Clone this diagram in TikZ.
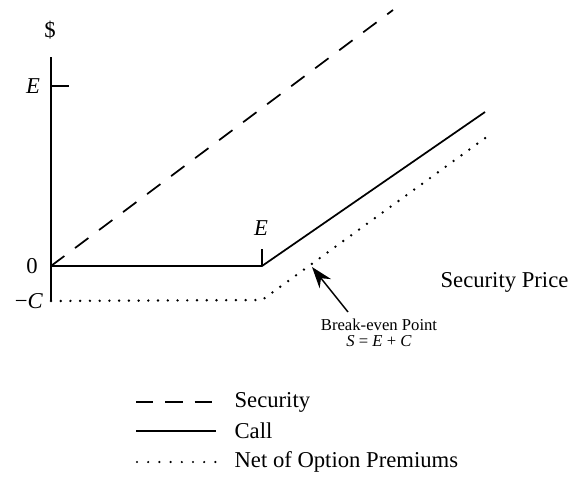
\documentclass[tikz,border=0pt]{standalone}
\usepackage{fontspec}
\setmainfont{Liberation Serif}
\usetikzlibrary{arrows.meta}
\begin{document}
\begin{tikzpicture}[x=0.75pt,y=-0.75pt,
  lbl/.style={inner sep=1pt,font=\fontsize{17}{20}\selectfont},
  small/.style={inner sep=1pt,font=\fontsize{12.5}{14}\selectfont,align=center},
  ln/.style={line width=1.3pt},
  dashln/.style={ln,dash pattern=on 12.5pt off 10pt},
  dotln/.style={line width=2pt,line cap=round,dash pattern=on 0pt off 7.3pt}]
\useasboundingbox (0,0) rectangle (577,479);
% axis
\coordinate (axtop) at (51,57);
\coordinate (axbot) at (51,301);
\draw[ln] (axtop) -- (axbot);
\coordinate (etick0) at (51,86);
\coordinate (etick1) at (69,86);
\draw[ln] (etick0) -- (etick1);
\node[lbl] (dollar) at (50,30) {\$};
\node[lbl] (elab) at (33,86) {\textit{E}};
\node[lbl] (zero) at (32,266) {0};
\node[lbl] (clab) at (29,301) {−\textit{C}};
% lines
\coordinate (o) at (51,266);
\coordinate (k) at (262,266);
\coordinate (kt) at (262,249);
\coordinate (cend) at (485,112);
\coordinate (send) at (393,10);
\coordinate (d0) at (51,301);
\coordinate (dk) at (262,300);
\coordinate (dend) at (488,136);
\draw[dashln] (o) -- (send);
\draw[ln] (o) -- (k) -- (cend);
\draw[ln] (k) -- (kt);
\draw[dotln] (d0) -- (dk) -- (dend);
\node[lbl] (ek) at (261,228) {\textit{E}};
\node[lbl,anchor=west] (sp) at (439,282) {Security Price};
% break-even
\coordinate (be) at (312,267);
\node[small] (betxt) at (379,333) {Break-even Point\\[-2pt]\textit{S} = \textit{E} + \textit{C}};
\coordinate (arrtail) at (348,312);
\draw[line width=1.1pt,-{Stealth[length=16pt,width=11pt]}] (arrtail) -- (be);
% legend
\coordinate (l1a) at (136,402); \coordinate (l1b) at (216,402);
\coordinate (l2a) at (136,431); \coordinate (l2b) at (216,431);
\coordinate (l3a) at (137,462); \coordinate (l3b) at (216,462);
\draw[ln,dash pattern=on 13pt off 9pt] (l1a) -- (l1b);
\draw[ln] (l2a) -- (l2b);
\draw[line width=1.8pt,line cap=round,dash pattern=on 0pt off 8.4pt] (l3a) -- (l3b);
\node[lbl,anchor=west] (t1) at (233,402) {Security};
\node[lbl,anchor=west] (t2) at (233,431) {Call};
\node[lbl,anchor=west] (t3) at (233,462) {Net of Option Premiums};
\end{tikzpicture}
\end{document}
